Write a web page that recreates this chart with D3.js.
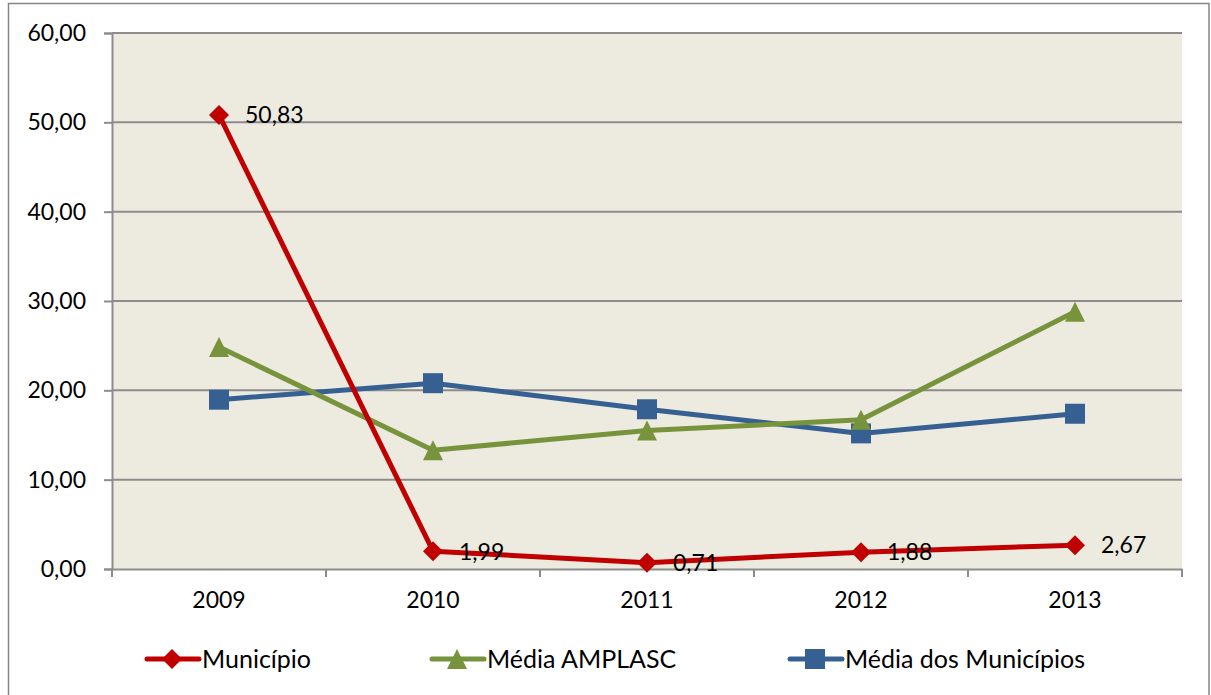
<!DOCTYPE html>
<html>
<head>
<meta charset="utf-8">
<script src="https://cdn.jsdelivr.net/npm/d3@7"></script>
<style>
  body { margin: 0; background: #fff; }
  svg { display: block; font-family: Lato, "Open Sans", sans-serif; }
</style>
</head>
<body>
<svg id="chart" width="1211" height="695"></svg>
<script>
var years = ["2009", "2010", "2011", "2012", "2013"];
var municipio = [50.83, 1.99, 0.71, 1.88, 2.67];
var mediaAmplasc = [24.85, 13.3, 15.5, 16.7, 28.8];
var mediaMunicipios = [18.95, 20.8, 17.88, 15.18, 17.38];
var yTicks = [0, 10, 20, 30, 40, 50, 60];

var series = [
    { name: "Município", values: municipio, color: "#C00000", marker: "diamond", labels: true },
    { name: "Média AMPLASC", values: mediaAmplasc, color: "#77933C", marker: "triangle", labels: false },
    { name: "Média dos Municípios", values: mediaMunicipios, color: "#376092", marker: "square", labels: false }
];

var svg = d3.select("#chart");
var plotLeft = 112, plotRight = 1182, plotTop = 33, plotBottom = 569;

var fmt = function (v) { return d3.format(".2f")(v).replace(".", ","); };

// outer chart border
svg.append("rect")
    .attr("x", 8.5).attr("y", 3.5)
    .attr("width", 1200.5).attr("height", 700)
    .attr("fill", "#fff").attr("stroke", "#868686").attr("stroke-width", 1.5);

var x = d3.scaleBand().domain(years).range([plotLeft, plotRight]);
var y = d3.scaleLinear().domain([0, 60]).range([plotBottom, plotTop]);

svg.append("rect")
    .attr("x", plotLeft).attr("y", plotTop)
    .attr("width", plotRight - plotLeft).attr("height", plotBottom - plotTop)
    .attr("fill", "#EDEAE0");

// gridlines
svg.append("g").selectAll("line")
    .data(yTicks.filter(d => d > 0))
    .join("line")
    .attr("x1", plotLeft).attr("x2", plotRight)
    .attr("y1", d => y(d)).attr("y2", d => y(d))
    .attr("stroke", "#8C8C8C").attr("stroke-width", 2);

// y axis
var yAxis = svg.append("g")
    .attr("transform", "translate(" + plotLeft + ",0)")
    .call(d3.axisLeft(y).tickValues(yTicks).tickFormat(fmt).tickSize(8).tickPadding(18));
yAxis.select(".domain").attr("stroke", "#8C8C8C").attr("stroke-width", 2);
yAxis.selectAll(".tick line").attr("stroke", "#8C8C8C").attr("stroke-width", 2);
yAxis.selectAll(".tick text").attr("font-size", 23).attr("fill", "#000").attr("font-family", "Lato");

// x axis
var xAxis = svg.append("g")
    .attr("transform", "translate(0," + plotBottom + ")")
    .call(d3.axisBottom(x).tickSize(0).tickPadding(23));
xAxis.select(".domain").attr("stroke", "#8C8C8C").attr("stroke-width", 2);
xAxis.selectAll(".tick text").attr("font-size", 23).attr("fill", "#000").attr("font-family", "Lato");
xAxis.selectAll(".bnd")
    .data(d3.range(years.length + 1))
    .join("line")
    .attr("x1", i => plotLeft + i * x.step()).attr("x2", i => plotLeft + i * x.step())
    .attr("y1", 0).attr("y2", 8)
    .attr("stroke", "#8C8C8C").attr("stroke-width", 2);

function markerPath(type) {
    if (type === "diamond") return "M0,-10L10,0L0,10L-10,0Z";
    if (type === "triangle") return "M0,-10L10,10L-10,10Z";
    return "M-10,-10H10V10H-10Z";
}

var cx = d => x(d) + x.bandwidth() / 2;

// draw series in reverse so Município is on top
series.slice().reverse().forEach(function (s) {
    var line = d3.line().x((v, i) => cx(years[i])).y(v => y(v));
    svg.append("path")
        .attr("d", line(s.values))
        .attr("fill", "none")
        .attr("stroke", s.color)
        .attr("stroke-width", 5)
        .attr("stroke-linejoin", "round");
    svg.append("g").selectAll("path")
        .data(s.values)
        .join("path")
        .attr("d", markerPath(s.marker))
        .attr("transform", (v, i) => "translate(" + cx(years[i]) + "," + y(v) + ")")
        .attr("fill", s.color);
    if (s.labels) {
        svg.append("g").selectAll("text")
            .data(s.values)
            .join("text")
            .attr("x", (v, i) => cx(years[i]) + 26)
            .attr("y", v => y(v))
            .attr("dy", "0.36em")
            .attr("font-size", 23)
            .attr("fill", "#000")
            .text(fmt);
    }
});

// legend
var legendX = [145, 430, 788];
var legend = svg.append("g").selectAll("g")
    .data(series)
    .join("g")
    .attr("transform", (d, i) => "translate(" + legendX[i] + ",659)");
legend.append("line")
    .attr("x1", 2).attr("x2", 54)
    .attr("stroke", d => d.color).attr("stroke-width", 5).attr("stroke-linecap", "round");
legend.append("path")
    .attr("d", d => markerPath(d.marker))
    .attr("transform", "translate(27,0)")
    .attr("fill", d => d.color);
legend.append("text")
    .attr("x", 57).attr("dy", "0.36em")
    .attr("font-size", 25).attr("fill", "#000")
    .text(d => d.name);
</script>
</body>
</html>
